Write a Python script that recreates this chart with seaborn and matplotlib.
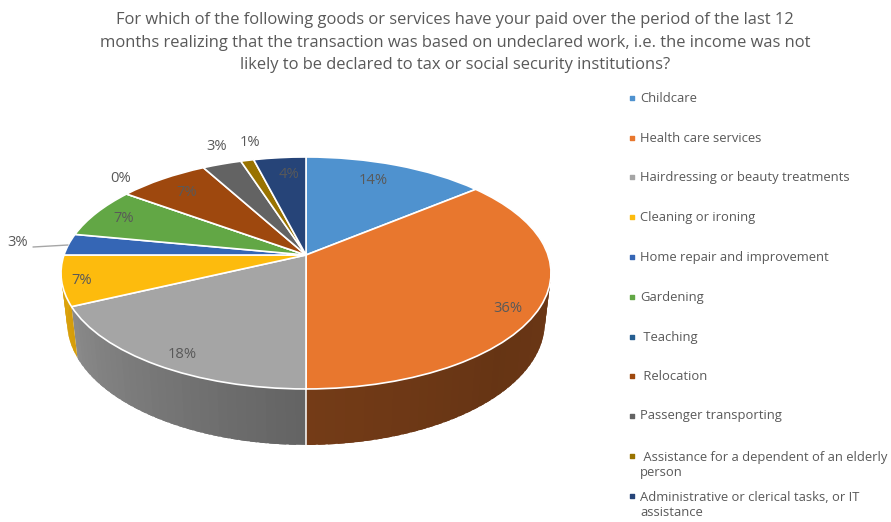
import numpy as np
import matplotlib
matplotlib.use("Agg")
import matplotlib.pyplot as plt
from matplotlib.transforms import Transform
import seaborn as sns

title_lines = [
    "For which of the following goods or services have your paid over the period of the last 12",
    "months realizing that the transaction was based on undeclared work, i.e. the income was not",
    "likely to be declared to tax or social security institutions?",
]
categories = [
    "Childcare", "Health care services", "Hairdressing or beauty treatments",
    "Cleaning or ironing", "Home repair and improvement", "Gardening",
    " Teaching", " Relocation", "Passenger transporting",
    " Assistance for a dependent of an elderly\nperson",
    "Administrative or clerical tasks, or IT\nassistance",
]
values = [14, 36, 18, 7, 3, 7, 0, 7, 3, 1, 4]
hex_colors = ["#4F92CF", "#E8772E", "#A5A5A5", "#FDBB0D", "#3566B5", "#62A745",
              "#255E91", "#9E480E", "#636363", "#997300", "#264478"]
label_xy = [(373, 181), (508, 308), (182, 354), (82, 281), (18, 242), (124, 219),
            (121, 178), (187, 192), (217, 146), (250, 143), (289, 175)]
legend_y = [98, 138, 177, 217, 257, 297, 337, 376, 416, 465, 505]

sns.set_theme(style="white")
plt.rcParams["font.family"] = ["Open Sans", "DejaVu Sans"]
palette = sns.color_palette(hex_colors)
text_grey = "#595959"

CX, CY = 306.0, 255.0
A, B, K = 242.0, 113.2, 0.155
# Lower rim of the disc: slightly narrower, taller and shifted down
RIM_SX, RIM_SY, RIM_DY = 0.975, 1.056, 48.5


def tilt(x, y):
    w = 1 + K * y
    return A * x / w, B * y / w


class TiltTransform(Transform):
    """Projects the unit-circle pie onto the tilted disc, in pixel-like axes units."""
    input_dims = 2
    output_dims = 2
    is_separable = False

    def transform_non_affine(self, pts):
        pts = np.asarray(pts, dtype=float)
        px, py = tilt(pts[:, 0], pts[:, 1])
        return np.column_stack([CX + px, CY - py])


fig = plt.figure(figsize=(8.91, 5.22), dpi=100, facecolor="white")
ax = fig.add_axes([0, 0, 1, 1])

# Side wall, built from thin slices so its shade can vary around the rim
bounds = np.concatenate([[0], np.cumsum(values)]) * 3.6
shade_at = ([90, 135, 179.9, 180, 245, 270], [0.47, 0.44, 0.50, 0.60, 0.84, 0.88])


def rim_points(theta_deg):
    t = np.radians(theta_deg)
    px, py = tilt(np.sin(t), np.cos(t))
    top = (CX + px, CY - py)
    bottom = (CX + px * RIM_SX, CY - (py * RIM_SY - RIM_DY))
    return top, bottom


for i in range(len(values)):
    lo, hi = max(bounds[i], 80), min(bounds[i + 1], 280)
    if hi <= lo:
        continue
    edges = np.linspace(lo, hi, max(int((hi - lo) / 2), 1) + 1)
    for t0, t1 in zip(edges[:-1], edges[1:]):
        (xa, ya), (xb, yb) = rim_points(t0)
        f = np.interp((t0 + t1) / 2, *shade_at)
        shade = tuple(c * f for c in palette[i])
        # Each slice overlaps the next one so no seams show between them
        (xe2, ye2), (xf2, yf2) = rim_points(min(t1 + 1.5, hi))
        ax.fill([xa, xe2, xf2, xb], [ya, ye2, yf2, yb], facecolor=shade,
                edgecolor="none", lw=0, zorder=1)

# Seam between the two large wedges on the wall
(xs, ys), (xe, ye) = rim_points(bounds[2])
ax.plot([xs, xe], [ys, ye], color="white", lw=1.1, zorder=2)

# Top face of the disc
wedges, _ = ax.pie(values, colors=palette, startangle=90, counterclock=False,
                   wedgeprops=dict(edgecolor="white", linewidth=1.2))
tilt_tf = TiltTransform() + ax.transData
for w in wedges:
    w.set_transform(tilt_tf)
    w.set_zorder(3)
ax.set_aspect("auto")
ax.set_xlim(0, 891)
ax.set_ylim(522, 0)
ax.axis("off")

# Percentage labels
for v, (lx, ly) in zip(values, label_xy):
    ax.text(lx, ly, f"{v}%", ha="center", va="center", fontsize=10.6,
            color=text_grey, zorder=5)
ax.plot([33, 68], [247, 245], color="#A6A6A6", lw=1, zorder=4)

# Title
for line, ty in zip(title_lines, [20, 43, 65]):
    ax.text(455, ty, line, ha="center", va="center", fontsize=11.85, color=text_grey)

# Key on the right
for name, col, ly in zip(categories, palette, legend_y):
    first_line_y = ly - 9 if "\n" in name else ly
    ax.scatter([632], [first_line_y], marker="s", s=9, color=col, zorder=5)
    ax.text(640, ly, name, ha="left", va="center", fontsize=9.4, color=text_grey,
            linespacing=1.25)

fig.savefig("out.png", dpi=100, facecolor="white")
